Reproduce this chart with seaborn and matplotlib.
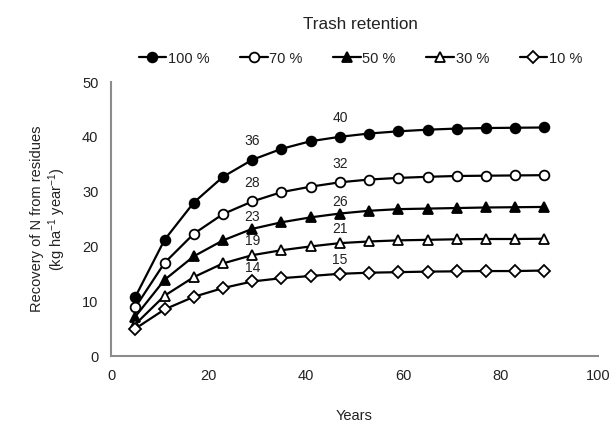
import numpy as np
import pandas as pd
import matplotlib
matplotlib.use("Agg")
import matplotlib.pyplot as plt
import seaborn as sns

## data
years = [5, 11, 17, 23, 29, 35, 41, 47, 53, 59, 65, 71, 77, 83, 89]
ret_100 = [10.8, 21.2, 28.0, 32.7, 35.8, 37.8, 39.2, 40.0, 40.6, 41.0, 41.3, 41.5, 41.6, 41.65, 41.7]
ret_70 = [8.9, 17.0, 22.3, 25.9, 28.2, 29.9, 30.9, 31.7, 32.2, 32.5, 32.7, 32.85, 32.9, 32.95, 33.0]
ret_50 = [7.2, 13.9, 18.2, 21.1, 23.2, 24.4, 25.3, 26.0, 26.5, 26.8, 26.9, 27.0, 27.1, 27.15, 27.2]
ret_30 = [5.8, 11.0, 14.4, 16.9, 18.4, 19.3, 20.0, 20.6, 20.9, 21.1, 21.2, 21.3, 21.35, 21.35, 21.4]
ret_10 = [5.0, 8.5, 10.8, 12.4, 13.6, 14.2, 14.6, 15.0, 15.2, 15.3, 15.4, 15.45, 15.5, 15.5, 15.6]
labels = ["100 %", "70 %", "50 %", "30 %", "10 %"]
## numbers written above points at year 29 and year 47
note_years = [29, 47]
note_text = [["36", "40"], ["28", "32"], ["23", "26"], ["19", "21"], ["14", "15"]]

series = [ret_100, ret_70, ret_50, ret_30, ret_10]
markers = ["o", "o", "^", "^", "D"]
faces = ["black", "white", "black", "white", "white"]
msizes = [7, 7, 7.5, 7.5, 6]
note_lift = [13.3, 13.2, 8.3, 9.9, 9.7]  # points above the marker centre

sns.set_style("white")
plt.rcParams['font.family'] = ['Liberation Sans', 'DejaVu Sans']
plt.rcParams['mathtext.fontset'] = 'custom'
plt.rcParams['mathtext.rm'] = 'Liberation Sans'
plt.rcParams['mathtext.it'] = 'Liberation Sans'

txt_col = "#222222"
fig = plt.figure(figsize=(6.13, 4.22), dpi=100)
ax = fig.add_axes([111/613, 1-356/422, (598-111)/613, (356-82)/422])

for vals, lab, m, fc, ms, notes, lift in zip(series, labels, markers, faces, msizes, note_text, note_lift):
    df = pd.DataFrame({"Years": years, "N": vals})
    sns.lineplot(data=df, x="Years", y="N", ax=ax, color="black", lw=1.6,
                 marker=m, markerfacecolor=fc, markeredgecolor="black",
                 markeredgewidth=1.3, markersize=ms, label=lab)
    for yr, txt in zip(note_years, notes):
        ax.annotate(txt, (yr, vals[years.index(yr)]), textcoords="offset points",
                    xytext=(0, lift), ha="center", va="center", fontsize=10, color=txt_col)

ax.set_xlim(0, 100)
ax.set_ylim(0, 50)
ax.set_xticks(np.arange(0, 101, 20))
ax.set_yticks(np.arange(0, 51, 10))
for s in ["top", "right"]:
    ax.spines[s].set_visible(False)
for s in ["left", "bottom"]:
    ax.spines[s].set_color("#8c8c8c")
    ax.spines[s].set_linewidth(1.5)
ax.tick_params(direction="out", length=5, width=1.3, color="#8c8c8c",
               labelsize=10.5, labelcolor=txt_col, pad=4)
ax.set_xlabel("Years", fontsize=10.5, color=txt_col, labelpad=19)
ax.set_ylabel("Recovery of N from residues\n(kg ha$^{-1}$ year$^{-1}$)",
              fontsize=10.5, color=txt_col, labelpad=10)

leg = ax.legend(ncol=5, loc="upper center", bbox_to_anchor=(0.512, 1 + 78/274),
                frameon=False, title="Trash retention", fontsize=10.5,
                title_fontsize=12.3, handlelength=1.9, handletextpad=0.1,
                columnspacing=2.1)
leg._legend_box.sep = 14
plt.setp(leg.get_texts(), color=txt_col)
leg.get_title().set_color(txt_col)

fig.savefig("out.png", dpi=100)
